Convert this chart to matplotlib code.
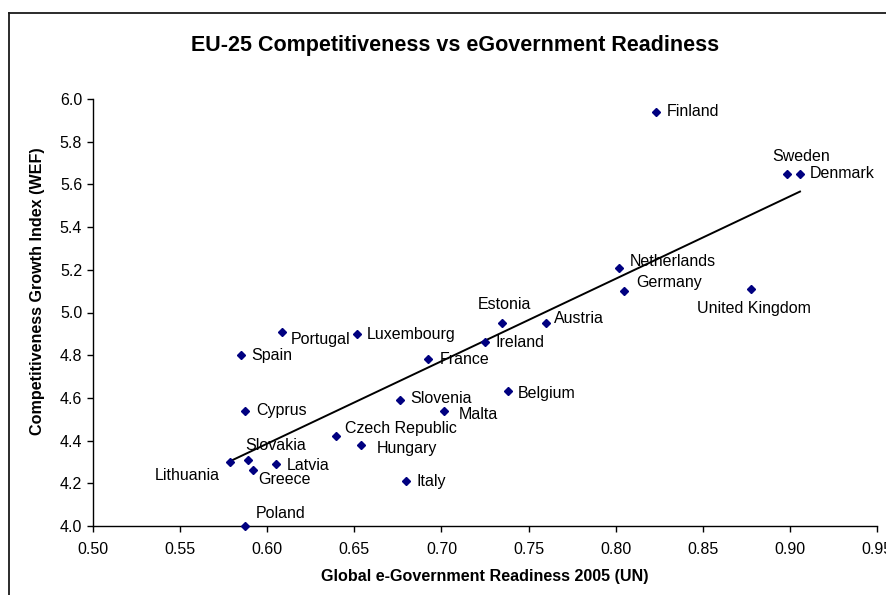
import numpy as np
import matplotlib
matplotlib.use("Agg")
import matplotlib.pyplot as plt
from matplotlib.lines import Line2D

plt.rcParams['font.family'] = ['Liberation Sans', 'DejaVu Sans']

# EU-25: UN e-Government readiness 2005 vs WEF growth competitiveness index
countries = ['Finland', 'Sweden', 'Denmark', 'Netherlands', 'Germany',
             'United Kingdom', 'Estonia', 'Austria', 'Ireland', 'Belgium',
             'Portugal', 'Luxembourg', 'Spain', 'France', 'Slovenia', 'Malta',
             'Cyprus', 'Czech Republic', 'Hungary', 'Slovakia', 'Latvia',
             'Greece', 'Lithuania', 'Italy', 'Poland']
egov = [0.8231, 0.8983, 0.9058, 0.8021, 0.8050,
        0.8777, 0.7347, 0.7602, 0.7251, 0.7381,
        0.6084, 0.6513, 0.5847, 0.6925, 0.6762, 0.7012,
        0.5872, 0.6396, 0.6536, 0.5887, 0.6050,
        0.5921, 0.5786, 0.6794, 0.5872]
gci = [5.94, 5.65, 5.65, 5.21, 5.10,
       5.11, 4.95, 4.95, 4.86, 4.63,
       4.91, 4.90, 4.80, 4.78, 4.59, 4.54,
       4.54, 4.42, 4.38, 4.31, 4.29,
       4.26, 4.30, 4.21, 4.00]

x_ticks = [0.50, 0.55, 0.60, 0.65, 0.70, 0.75, 0.80, 0.85, 0.90, 0.95]
y_ticks = [4.0, 4.2, 4.4, 4.6, 4.8, 5.0, 5.2, 5.4, 5.6, 5.8, 6.0]

# label placement: (dx px, dy px, horizontal alignment)
label_pos = {
    'Finland': (11, 0, 'left'), 'Sweden': (14, 17, 'center'),
    'Denmark': (10, 0, 'left'), 'Netherlands': (10, 6, 'left'),
    'Germany': (12, 9, 'left'), 'United Kingdom': (3, -19, 'center'),
    'Estonia': (3, 19, 'center'), 'Austria': (8, 5, 'left'),
    'Ireland': (10, 0, 'left'), 'Belgium': (10, -2, 'left'),
    'Portugal': (9, -8, 'left'), 'Luxembourg': (10, -1, 'left'),
    'Spain': (11, 0, 'left'), 'France': (11, 0, 'left'),
    'Slovenia': (10, 2, 'left'), 'Malta': (15, -4, 'left'),
    'Cyprus': (11, 0, 'left'), 'Czech Republic': (9, 8, 'left'),
    'Hungary': (16, -4, 'left'), 'Slovakia': (-2, 14, 'left'),
    'Latvia': (11, -1, 'left'), 'Greece': (5, -9, 'left'),
    'Lithuania': (-10, -14, 'right'), 'Italy': (11, 0, 'left'),
    'Poland': (11, 13, 'left'),
}

W, H = 887, 595
fig = plt.figure(figsize=(W / 100, H / 100), dpi=100)
fig.patch.set_facecolor('white')

# chart area border (left and top edges)
fig.add_artist(Line2D([9 / W, 9 / W], [0, 1 - 13 / H], transform=fig.transFigure,
                      color='#1a1a1a', lw=1.3))
fig.add_artist(Line2D([9 / W, 1.0], [1 - 13 / H, 1 - 13 / H], transform=fig.transFigure,
                      color='#1a1a1a', lw=1.3))

ax = fig.add_axes([93 / W, 1 - 526 / H, (877 - 93) / W, (526 - 99) / H])
ax.set_xlim(0.50, 0.95)
ax.set_ylim(4.0, 6.0)

ax.plot(egov, gci, 'D', color='#000080', markersize=3.6, clip_on=False, zorder=3)

# linear trendline over the data range
coef = np.polyfit(egov, gci, 1)
xs = np.array([min(egov), max(egov)])
ax.plot(xs, np.polyval(coef, xs), color='black', lw=1.4, zorder=2)

for name, xv, yv in zip(countries, egov, gci):
    dx, dy, ha = label_pos[name]
    ax.annotate(name, (xv, yv), xytext=(dx, dy), textcoords='offset pixels',
                ha=ha, va='center', fontsize=11.5, color='black')

ax.set_xticks(x_ticks)
ax.set_xticklabels([f'{v:.2f}' for v in x_ticks])
ax.set_yticks(y_ticks)
ax.set_yticklabels([f'{v:.1f}' for v in y_ticks])
ax.tick_params(direction='out', length=4.3, width=1, labelsize=11.5)
ax.tick_params(axis='x', pad=7)
ax.tick_params(axis='y', pad=3.5)
for side in ('top', 'right'):
    ax.spines[side].set_visible(False)
for side in ('left', 'bottom'):
    ax.spines[side].set_linewidth(1)

fig.text(455 / W, 1 - 45 / H, 'EU-25 Competitiveness vs eGovernment Readiness',
         ha='center', va='center', fontsize=15.5, fontweight='bold')
fig.text(485 / W, 1 - 576 / H, 'Global e-Government Readiness 2005 (UN)',
         ha='center', va='center', fontsize=11.6, fontweight='bold')
fig.text(38 / W, 1 - 291 / H, 'Competitiveness Growth Index (WEF)',
         ha='center', va='center', rotation=90, fontsize=11.6, fontweight='bold')

fig.savefig('out.png', dpi=100)
